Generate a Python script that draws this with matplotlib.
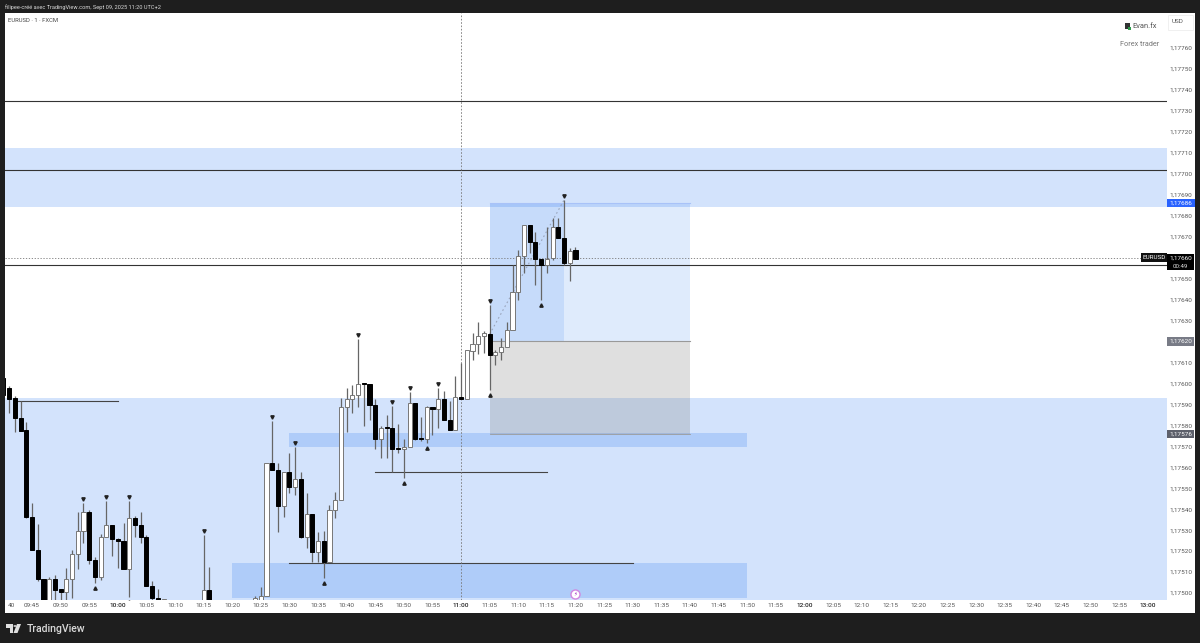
# EURUSD 1 min chart (TradingView screenshot)
import matplotlib
matplotlib.use("Agg")
import matplotlib.pyplot as plt
from matplotlib.patches import Rectangle, Polygon, Circle
from matplotlib.transforms import blended_transform_factory
from matplotlib.ticker import FuncFormatter

plt.rcParams['font.family'] = ['Roboto', 'DejaVu Sans']

# candles: prices are given in points above 1.17500 (1 point = 0.00001)
times = ["09:40", "09:41", "09:42", "09:43", "09:44", "09:45", "09:46", "09:47", "09:48", "09:49",
         "09:50", "09:51", "09:52", "09:53", "09:54", "09:55", "09:56", "09:57", "09:58", "09:59",
         "10:00", "10:01", "10:02", "10:03", "10:04", "10:05", "10:06", "10:07", "10:08",
         "10:15", "10:16",
         "10:24", "10:25", "10:26", "10:27", "10:28", "10:29",
         "10:30", "10:31", "10:32", "10:33", "10:34", "10:35", "10:36", "10:37", "10:38", "10:39",
         "10:40", "10:41", "10:42", "10:43", "10:44", "10:45", "10:46", "10:47", "10:48", "10:49",
         "10:50", "10:51", "10:52", "10:53", "10:54", "10:55", "10:56", "10:57", "10:58", "10:59",
         "11:00", "11:01", "11:02", "11:03", "11:04", "11:05", "11:06", "11:07", "11:08", "11:09",
         "11:10", "11:11", "11:12", "11:13", "11:14", "11:15", "11:16", "11:17", "11:18", "11:19",
         "11:20"]
opens = [102.6, 97.8, 93.0, 83.5, 77.8, 36.3, 20.5, 6.7, -10.5, 6.7,
         1.7, 0.5, 6.7, 18.6, 29.6, 38.6, 15.7, 7.6, 26.7, 32.4,
         25.8, 24.8, 11.4, 35.8, 32.4, 26.7, 3.3, -2.4, -3.8,
         -12.9, 1.4,
         -3.3, -10.5, -1.4, 62.0, 58.7, 41.5,
         57.7, 50.6, 54.4, 26.7, 37.7, 19.6, 24.8, 14.8, 39.6, 44.4,
         88.7, 92.5, 94.4, 99.7, 99.7, 89.7, 73.5, 78.7, 78.7, 68.7,
         68.7, 69.6, 90.6, 73.5, 73.5, 88.7, 87.8, 92.5, 82.5, 77.8,
         93.5, 92.5, 115.4, 118.8, 122.6, 123.5, 113.5, 115.0, 117.3, 125.5,
         143.6, 160.7, 175.5, 167.4, 159.3, 156.5, 159.8, 174.6, 169.3, 157.4,
         163.6]
highs = [104.0, 98.7, 94.0, 91.6, 81.6, 42.9, 32.9, 6.7, 7.6, 8.6,
         1.9, 11.9, 20.5, 38.6, 42.9, 39.6, 17.2, 28.1, 43.9, 32.4,
         26.2, 33.4, 43.9, 36.7, 38.6, 27.7, 5.7, 1.9, -2.9,
         27.7, 12.4,
         -1.4, 2.9, 62.0, 82.0, 62.0, 57.7,
         66.8, 69.6, 57.7, 47.7, 37.7, 29.1, 29.6, 42.0, 48.2, 93.0,
         97.8, 99.2, 121.2, 99.7, 99.7, 92.5, 79.7, 84.9, 89.2, 80.6,
         73.5, 95.9, 90.6, 84.0, 89.2, 88.7, 97.8, 96.4, 91.6, 103.5,
         109.7, 115.9, 124.0, 129.3, 125.0, 137.4, 115.9, 121.6, 129.3, 156.5,
         163.6, 175.5, 175.5, 172.2, 159.3, 174.6, 178.9, 178.9, 187.5, 164.6,
         165.0]
lows = [92.1, 85.9, 76.8, 77.3, 35.8, 20.5, 5.7, -12.9, -10.5, -4.8,
        -4.8, -4.8, -2.4, 11.4, 23.9, 13.8, 4.8, 6.2, 26.7, 17.6,
        11.9, 11.4, -1.9, 26.7, 23.9, 3.3, -4.8, -6.2, -3.8,
        -12.9, -12.9,
        -3.3, -12.9, -1.4, 58.7, 29.1, 36.3,
        47.7, 46.7, 26.2, 21.5, 14.8, 14.8, 7.2, 14.8, 35.8, 44.4,
        76.8, 85.9, 88.7, 79.7, 82.5, 68.7, 64.4, 64.4, 57.7, 66.8,
        54.9, 69.6, 73.0, 72.5, 71.6, 75.4, 78.7, 82.5, 77.8, 77.8,
        92.5, 92.5, 111.1, 114.0, 114.5, 96.8, 108.8, 111.1, 117.3, 125.5,
        139.8, 152.6, 162.2, 146.9, 139.8, 152.6, 158.8, 169.3, 156.5, 148.8,
        159.3]
closes = [94.4, 92.5, 83.5, 77.3, 36.3, 20.5, 6.7, -10.5, 6.7, 1.4,
          0.5, 6.7, 18.6, 29.6, 38.6, 15.7, 7.6, 26.7, 32.4, 25.8,
          24.8, 11.4, 35.8, 32.4, 26.7, 3.3, -2.4, -3.8, -3.1,
          1.4, -12.9,
          -2.4, -1.4, 62.0, 58.7, 41.5, 57.7,
          50.6, 54.4, 26.7, 37.7, 19.6, 24.8, 14.8, 39.6, 44.4, 88.7,
          92.5, 94.4, 99.7, 99.7, 89.7, 73.5, 78.7, 78.7, 68.7, 68.7,
          69.6, 90.6, 73.5, 73.5, 88.7, 87.8, 92.5, 82.5, 77.8, 93.5,
          92.5, 115.9, 118.8, 122.6, 124.0, 113.5, 115.0, 117.3, 125.5, 143.6,
          160.7, 175.5, 167.4, 159.3, 156.5, 159.3, 174.6, 169.3, 157.4, 163.1,
          159.3]

# swing markers above highs / below lows
swing_highs = ["09:54", "09:58", "10:02", "10:15", "10:27", "10:31", "10:42", "10:48", "10:51", "10:56", "11:05", "11:18"]
swing_lows = ["09:56", "10:02", "10:36", "10:50", "10:54", "11:05", "11:14"]

# horizontal lines: (price in points)
full_lines = [234.7, 201.8, 156.5]
seg_lines = [("09:42", "10:00", 91.6), ("10:45", "11:15", 57.7), ("10:30", "11:30", 14.3)]

# zones (start, end, top, bottom)
dark_zones = [("10:30", "11:50", 76.3, 69.6), ("10:20", "11:50", 14.3, -2.4)]
wide_zones = [(212.3, 184.1), (93.0, -3.34)]

# long position tool
entry = 120.0
target = 186.0
stop = 76.0
pos_start = "11:05"
pos_end = "11:40"
pos_now = "11:18"

y_ticks = [760, 750, 740, 730, 720, 710, 700, 690, 680, 670, 650, 640, 630, 620, 610,
           600, 590, 580, 570, 560, 550, 540, 530, 520, 510, 500]


def mins(s):
    return int(s[:2]) * 60 + int(s[3:])


def pr(p):
    return 1.175 + p * 1e-5


W, H = 1200, 643
fig = plt.figure(figsize=(W / 100, H / 100), dpi=100, facecolor="#1e1e1e")
# white panel behind axes and price scale
fig.add_artist(Rectangle((5 / W, 1 - 613 / H), 1190 / W, 600 / H, transform=fig.transFigure,
                         facecolor="white", edgecolor="none", zorder=-5))
ax = fig.add_axes([5 / W, 1 - 600 / H, 1162 / W, 587 / H], facecolor="white")
ax.set_xlim(580.28, 783.4)
ax.set_ylim(pr(-3.34), pr(276.7))
for s in ax.spines.values():
    s.set_visible(False)

blue = "#2373f0"
t0, t1 = ax.get_xlim()
for top, bot in wide_zones:
    ax.fill_between([t0, t1], pr(bot), pr(top), color=blue, alpha=0.2, lw=0, zorder=1)
for a, b, top, bot in dark_zones:
    ax.fill_between([mins(a), mins(b)], pr(bot), pr(top), color=blue, alpha=0.2, lw=0, zorder=1.2)

# position tool
ps, pe, pn = mins(pos_start), mins(pos_end), mins(pos_now)
ax.fill_between([ps, pe], pr(entry), pr(target), color=blue, alpha=0.14, lw=0, zorder=1.5)
ax.fill_between([ps, pn], pr(entry), pr(target), color=blue, alpha=0.13, lw=0, zorder=1.6)
ax.fill_between([ps, pe], pr(stop), pr(entry), color="#808080", alpha=0.25, lw=0, zorder=1.5)
ax.plot([ps, pe], [pr(entry), pr(entry)], color="#999999", lw=0.8, zorder=1.7)
ax.plot([ps, pe], [pr(stop), pr(stop)], color="#9a9a9a", lw=0.6, zorder=1.7)
ax.plot([ps, pe], [pr(target), pr(target)], color="#a8c2f8", lw=0.8, zorder=1.7)
ax.plot([ps, pn], [pr(123.5), pr(187.5)], color="#9aa5bb", lw=0.8, ls=(0, (1.5, 2.5)), zorder=1.8)

# levels
for p in full_lines:
    ax.plot([t0, t1], [pr(p), pr(p)], color="#333333", lw=0.8, zorder=2)
for a, b, p in seg_lines:
    ax.plot([mins(a), mins(b)], [pr(p), pr(p)], color="#444444", lw=0.8, zorder=2)

# crosshair and last price line
ax.axvline(mins("11:00"), color="#777777", lw=0.6, ls=(0, (2, 2)), zorder=2)
ax.plot([t0, t1], [pr(160), pr(160)], color="#777777", lw=0.6, ls=(0, (1.5, 2)), zorder=2)

# candles
x = [mins(t) for t in times]
ax.vlines(x, [pr(v) for v in lows], [pr(v) for v in highs], color="#666666", lw=0.9, zorder=3)
for xi, o, c in zip(x, opens, closes):
    up = c > o
    ax.bar(xi, max(abs(c - o), 0.4) * 1e-5, bottom=pr(min(o, c)), width=0.72,
           color="white" if up else "black", edgecolor="#777777" if up else "black",
           lw=0.7, zorder=4)

# swing triangles
look = dict(zip(times, zip(highs, lows)))
ax.plot([mins(t) for t in swing_highs], [pr(look[t][0] + 2.0) for t in swing_highs],
        ls="none", marker="v", ms=2.4, color="#222222", zorder=5)
ax.plot([mins(t) for t in swing_lows], [pr(look[t][1] - 2.2) for t in swing_lows],
        ls="none", marker="^", ms=2.4, color="#222222", zorder=5)

# news icon on the last candle
ax.plot([mins("11:20")], [pr(-0.5)], marker="o", ms=6.5, mfc="white", mec="#d088e0", mew=1.0, zorder=6)
ax.text(mins("11:20"), pr(-0.6), "\u26a1", fontsize=4, color="#a030c0", ha="center", va="center",
        family=["DejaVu Sans"], zorder=7)

# axes ticks
ax.yaxis.tick_right()
ax.set_yticks([1.17 + v * 1e-5 for v in y_ticks])
ax.yaxis.set_major_formatter(FuncFormatter(lambda v, _: f"{v:.5f}".replace(".", ",")))
ax.tick_params(axis="y", length=0, pad=1.5, labelsize=4.6, labelcolor="#555555")
tick_t = list(range(mins("09:45"), mins("13:00") + 1, 5))
ax.set_xticks(tick_t)
ax.set_xticklabels([f"{t // 60:02d}:{t % 60:02d}" for t in tick_t])
ax.tick_params(axis="x", length=0, pad=2, labelsize=4.6, labelcolor="#555555")
for lbl, t in zip(ax.get_xticklabels(), tick_t):
    if t % 60 == 0:
        lbl.set_color("#222222")
        lbl.set_fontweight("medium")
ax.annotate("40", xy=(0, 0), xycoords="axes fraction", xytext=(1.8, -2.2), textcoords="offset points",
            fontsize=4.6, color="#555555", ha="left", va="top", annotation_clip=False)

# tags on the price scale
tr = blended_transform_factory(ax.transAxes, ax.transData)
axw = 1162


def tag(x_px, w_px, p, txt, bg, h_pts=4.0):
    ax.add_patch(Rectangle((x_px / axw, pr(p - h_pts / 2)), w_px / axw, h_pts * 1e-5, transform=tr,
                           facecolor=bg, edgecolor="none", clip_on=False, zorder=8))
    ax.text((x_px + w_px / 2) / axw, pr(p), txt, transform=tr, color="white", fontsize=4.6,
            ha="center", va="center", clip_on=False, zorder=9)


tag(1162, 28, 186, "1,17686", "#2962ff")
tag(1162, 27, 120, "1,17620", "#787b86")
tag(1162, 27, 76, "1,17576", "#5d606b")
tag(1136, 26, 160, "EURUSD", "#111111")
ax.add_patch(Rectangle((1162 / axw, pr(154.1)), 27 / axw, 7.6e-5, transform=tr, facecolor="black",
                       edgecolor="none", clip_on=False, zorder=8))
ax.text(1175.5 / axw, pr(160), "1,17660", transform=tr, color="white", fontsize=4.6, ha="center",
        va="center", clip_on=False, zorder=9)
ax.text(1175.5 / axw, pr(156), "00:49", transform=tr, color="#dddddd", fontsize=4.4, ha="center",
        va="center", clip_on=False, zorder=9)


# text outside the axes, placed in figure pixels
def ftext(px, py, s, **kw):
    fig.text(px / W, 1 - py / H, s, va="center", **kw)


ftext(5, 7, "filipee-créé avec TradingView.com, Sept 09, 2025 11:20 UTC+2", color="#d8d8d8", fontsize=4.1)
ftext(8, 20, "EURUSD · 1 · FXCM", color="#444444", fontsize=4.2)
fig.add_artist(Rectangle((1168 / W, 1 - 30 / H), 25 / W, 15 / H, transform=fig.transFigure,
                         facecolor="white", edgecolor="#eeeeee", lw=0.6))
ftext(1172, 21.5, "USD", color="#555555", fontsize=4.6, ha="left", zorder=10)
ftext(1132, 26, "Evan.fx", color="#555555", fontsize=5.4)
fig.add_artist(Rectangle((1125 / W, 1 - 29 / H), 5 / W, 6 / H, transform=fig.transFigure,
                         facecolor="#333333", edgecolor="none"))
fig.add_artist(Rectangle((1128 / W, 1 - 30 / H), 2.5 / W, 3 / H, transform=fig.transFigure,
                         facecolor="#2e9a4a", edgecolor="none"))
ftext(1120, 44, "Forex trader", color="#777777", fontsize=5.2)
ftext(27, 628.5, "TradingView", color="#d9d9d9", fontsize=7.6, fontweight="medium")

# TradingView logo
logo = "#e0e0e0"
for pts in ([(6, 624), (13, 624), (13, 633), (9.5, 633), (9.5, 627.5), (6, 627.5)],
            [(17, 624), (21, 624), (17.5, 633), (13.5, 633)]):
    fig.add_artist(Polygon([(px / W, 1 - py / H) for px, py in pts], closed=True,
                           transform=fig.transFigure, facecolor=logo, edgecolor="none"))
fig.add_artist(Circle((15 / W, 1 - 626 / H), 1.6 / W, transform=fig.transFigure, facecolor=logo,
                      edgecolor="none"))

fig.savefig("out.png", dpi=100, facecolor=fig.get_facecolor())
